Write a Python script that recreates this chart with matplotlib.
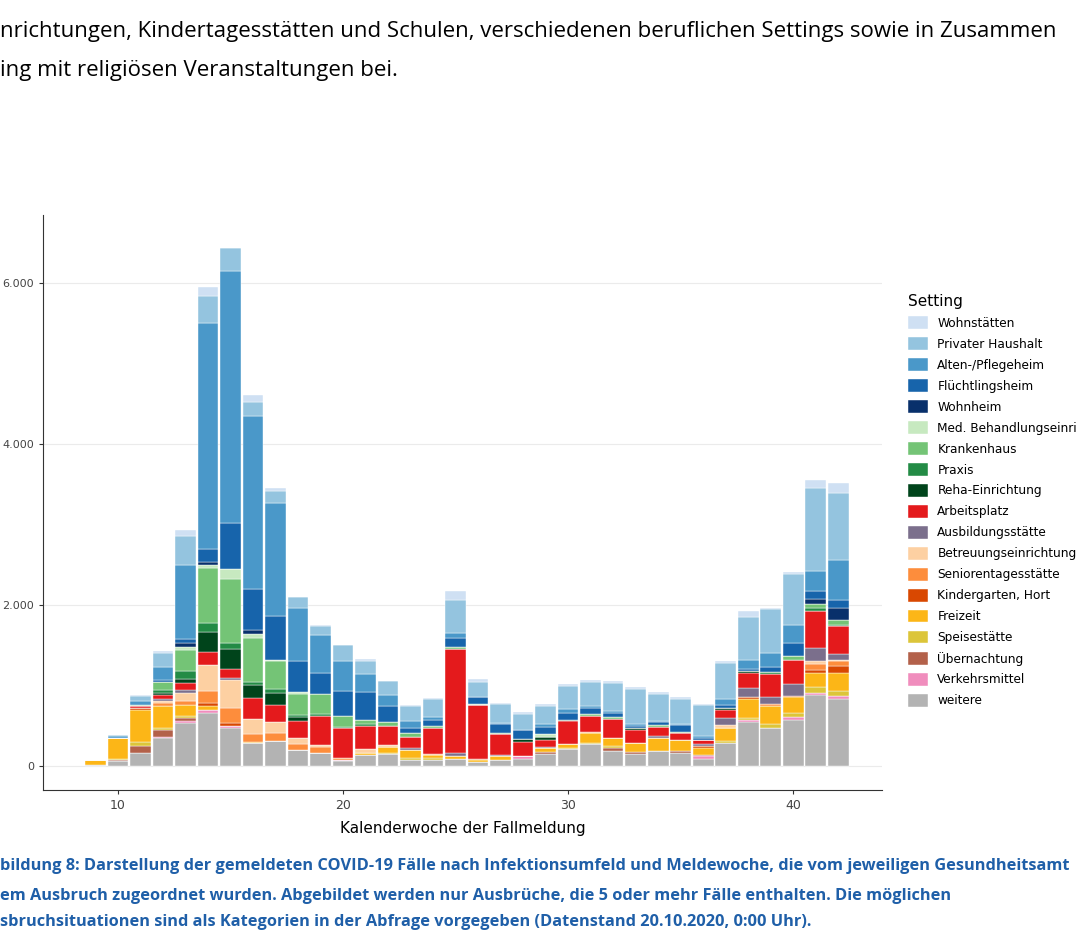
import matplotlib
matplotlib.use("Agg")
import matplotlib.pyplot as plt
import numpy as np

weeks = list(range(9, 43))
weitere = [20,70,165,348,535,665,478,287,317,209,165,70,144,152,82,78,94,49,82,94,152,217,275,197,152,197,164,94,290,545,476,580,890,840]
verkehrsmittel = [0,0,0,13,30,30,20,0,0,0,0,15,0,0,0,0,0,0,0,29,0,0,0,0,0,0,0,29,0,29,0,29,20,29]
uebernachtung = [0,10,87,87,35,0,0,0,0,0,0,0,0,0,0,0,0,0,0,12,25,0,0,29,25,0,33,20,0,0,0,0,0,0]
speisestaette = [0,15,55,30,22,0,0,0,0,0,0,0,0,20,20,20,0,0,0,0,0,16,20,33,0,0,0,0,29,29,49,54,70,70]
freizeit = [60,260,390,274,143,57,0,10,0,0,0,0,20,74,103,45,29,25,41,0,49,41,115,98,111,152,131,90,157,230,230,195,178,219]
kindergarten = [0,0,30,0,0,30,43,0,0,0,0,0,0,0,0,0,0,20,0,0,0,0,0,0,0,0,0,20,0,29,0,20,41,83]
senioren = [0,0,0,35,43,157,187,109,100,65,78,20,0,0,0,10,0,0,0,0,0,0,20,0,0,0,0,0,0,0,20,0,70,62]
betreuung = [0,0,0,30,104,322,348,187,130,74,22,0,53,20,0,0,0,0,0,0,0,0,0,0,0,0,0,0,41,0,0,0,33,12]
ausbildung = [0,0,0,20,35,0,22,0,0,0,0,0,0,0,29,0,41,0,20,0,20,0,0,0,0,33,0,20,82,115,91,145,166,79]
arbeitsplatz = [0,0,20,43,87,157,109,261,217,217,357,370,287,234,127,320,1292,664,254,172,82,287,197,230,164,103,82,53,103,185,277,294,464,344]
reha = [0,0,0,30,52,248,248,157,148,43,0,0,0,0,0,0,0,0,0,29,41,20,0,0,20,0,0,0,20,16,0,0,0,0]
praxis = [0,0,0,35,100,117,78,35,43,35,30,15,16,0,0,0,0,0,0,0,0,0,0,0,0,0,0,0,0,0,25,0,33,20]
krankenhaus = [0,0,20,96,261,674,791,543,348,261,252,130,53,53,49,29,20,0,20,0,0,0,29,29,0,29,20,0,0,0,0,50,50,62]
med_behandlung = [0,0,0,0,30,43,122,57,20,20,0,0,0,0,0,0,0,20,0,0,29,0,0,0,0,0,0,0,0,0,0,0,0,0]
wohnheim = [0,0,0,0,56,30,0,43,0,0,0,0,0,0,0,0,0,0,0,0,0,0,0,0,0,0,0,0,0,0,0,0,66,145]
fluechtlingsheim = [0,0,0,26,52,165,574,509,539,378,252,313,349,193,62,74,111,82,107,115,94,86,70,41,29,33,82,29,41,33,70,165,99,104]
altenheim = [0,20,50,161,913,2809,3122,2152,1404,665,474,374,226,144,90,41,62,0,20,0,33,41,20,29,20,16,20,25,74,115,164,228,248,497]
privat = [0,15,55,174,361,335,296,165,152,130,109,193,164,164,189,217,414,193,225,193,225,287,299,353,443,340,307,377,443,525,550,621,1027,828]
wohnstaetten = [0,0,15,30,74,109,0,87,35,10,20,0,20,10,15,15,111,25,20,25,30,30,30,25,20,20,20,20,25,82,15,35,104,124]

# bottom to top
series = [
    ("weitere", weitere, "#b3b3b3"),
    ("Verkehrsmittel", verkehrsmittel, "#f08dbd"),
    ("Übernachtung", uebernachtung, "#b3614a"),
    ("Speisestätte", speisestaette, "#dcc53a"),
    ("Freizeit", freizeit, "#fcb617"),
    ("Kindergarten, Hort", kindergarten, "#d94801"),
    ("Seniorentagesstätte", senioren, "#fd8d3c"),
    ("Betreuungseinrichtung", betreuung, "#fdd0a2"),
    ("Ausbildungsstätte", ausbildung, "#7b6f8c"),
    ("Arbeitsplatz", arbeitsplatz, "#e41a1c"),
    ("Reha-Einrichtung", reha, "#00441b"),
    ("Praxis", praxis, "#238b45"),
    ("Krankenhaus", krankenhaus, "#74c476"),
    ("Med. Behandlungseinrichtung", med_behandlung, "#c7e9c0"),
    ("Wohnheim", wohnheim, "#08306b"),
    ("Flüchtlingsheim", fluechtlingsheim, "#1764ab"),
    ("Alten-/Pflegeheim", altenheim, "#4a98c9"),
    ("Privater Haushalt", privat, "#94c4df"),
    ("Wohnstätten", wohnstaetten, "#cfe0f3"),
]

fig = plt.figure(figsize=(10.76, 9.5), dpi=100)
ax = fig.add_axes([0.04, 0.168, 0.78, 0.606])
bottom = np.zeros(len(weeks))
handles = []
for name, vals, col in series:
    b = ax.bar(weeks, vals, bottom=bottom, width=0.92, color=col, edgecolor="white", linewidth=0.3, label=name)
    bottom += np.array(vals)
    handles.append(b)

ax.set_xlim(6.67, 43.96)
ax.set_ylim(-298, 6845)
ax.set_yticks([0, 2000, 4000, 6000])
ax.set_yticklabels(["0", "2.000", "4.000", "6.000"], fontsize=8, color="#444444")
ax.set_xticks([10, 20, 30, 40])
ax.set_xticklabels(["10", "20", "30", "40"], fontsize=9, color="#444444")
ax.grid(axis="y", color="#ebebeb", linewidth=0.8)
ax.set_axisbelow(True)
for s in ["top", "right"]:
    ax.spines[s].set_visible(False)
ax.spines["left"].set_color("#333333")
ax.spines["bottom"].set_color("#333333")
ax.tick_params(length=3, color="#333333")
ax.set_xlabel("Kalenderwoche der Fallmeldung", fontsize=11, labelpad=6)

leg = fig.legend(handles[::-1], [s[0] for s in series][::-1], loc="upper left",
                 bbox_to_anchor=(0.834, 0.702), frameon=False, title="Setting",
                 fontsize=8.7, title_fontsize=11, handlelength=1.6, handleheight=1.25,
                 labelspacing=0.62, alignment="left")

fig.text(0.0, 0.967, "nrichtungen, Kindertagesstätten und Schulen, verschiedenen beruflichen Settings sowie in Zusammen",
         fontsize=16, family="Open Sans", va="center")
fig.text(0.0, 0.926, "ing mit religiösen Veranstaltungen bei.", fontsize=16, family="Open Sans", va="center")

cap = "#1f5fa8"
fig.text(0.0, 0.088, "bildung 8: Darstellung der gemeldeten COVID-19 Fälle nach Infektionsumfeld und Meldewoche, die vom jeweiligen Gesundheitsamt",
         fontsize=11.8, color=cap, weight="bold", va="center", family="Open Sans")
fig.text(0.0, 0.057, "em Ausbruch zugeordnet wurden. Abgebildet werden nur Ausbrüche, die 5 oder mehr Fälle enthalten. Die möglichen",
         fontsize=11.8, color=cap, weight="bold", va="center", family="Open Sans")
fig.text(0.0, 0.030, "sbruchsituationen sind als Kategorien in der Abfrage vorgegeben (Datenstand 20.10.2020, 0:00 Uhr).",
         fontsize=11.8, color=cap, weight="bold", va="center", family="Open Sans")

fig.savefig("out.png", dpi=100)
